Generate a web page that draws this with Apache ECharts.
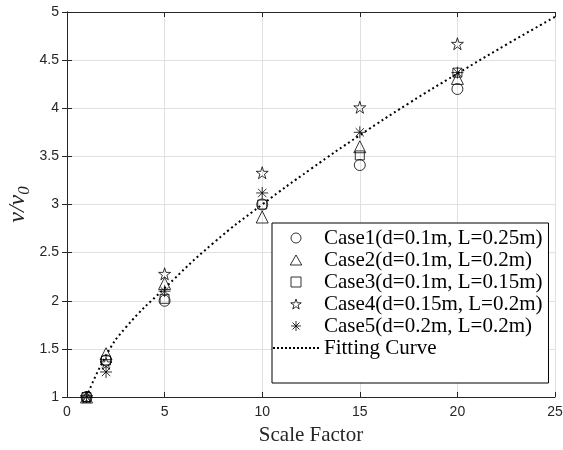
<!DOCTYPE html>
<html>
<head>
<meta charset="utf-8">
<script src="https://cdn.jsdelivr.net/npm/echarts@6/dist/echarts.min.js"></script>
<style>
  html, body { margin: 0; padding: 0; background: #fff; }
  #chart { width: 563px; height: 450px; }
</style>
</head>
<body>
<div id="chart"></div>
<script>
// 数据: 缩放因子与各工况的速度比
const scaleFactors = [1, 2, 5, 10, 15, 20];
const case1 = [1, 1.38, 2.0, 3.0, 3.41, 4.2];
const case2 = [1, 1.45, 2.18, 2.87, 3.6, 4.31];
const case3 = [1, 1.38, 2.02, 3.0, 3.51, 4.37];
const case4 = [1, 1.35, 2.28, 3.33, 4.01, 4.67];
const case5 = [1, 1.26, 2.1, 3.12, 3.75, 4.37];

// 拟合曲线(从图上读取的点)
const fitX = [1, 2, 3, 5, 7.5, 10, 12.5, 15, 17.5, 20, 22.5, 25];
const fitY = [1, 1.43, 1.72, 2.13, 2.6, 3.0, 3.37, 3.72, 4.05, 4.36, 4.66, 4.95];

const caseNames = [
    'Case1(d=0.1m, L=0.25m)',
    'Case2(d=0.1m, L=0.2m)',
    'Case3(d=0.1m, L=0.15m)',
    'Case4(d=0.15m, L=0.2m)',
    'Case5(d=0.2m, L=0.2m)'
];

const starPath = 'path://M0,-1L0.2245,-0.309L0.951,-0.309L0.363,0.118L0.588,0.809L0,0.382L-0.588,0.809L-0.363,0.118L-0.951,-0.309L-0.2245,-0.309Z';
const asteriskPath = 'path://M0,-1L0,1M-1,0L1,0M-0.7,-0.7L0.7,0.7M-0.7,0.7L0.7,-0.7';
const trianglePath = 'path://M0,-1L0.95,0.65L-0.95,0.65Z';
const squarePath = 'path://M-1,-1L1,-1L1,1L-1,1Z';

// 图例中的点线图标
let dotted = 'path://';
for (let i = 0; i < 12; i++) {
    dotted += 'M' + (i * 4) + ',0h2v2h-2z';
}

const symbols = ['circle', trianglePath, squarePath, starPath, asteriskPath];
const sizes = [11, 12, 9, 12, 12];
const caseData = [case1, case2, case3, case4, case5];

const chart = echarts.init(document.getElementById('chart'));

const axisColor = '#262626';
const gridColor = '#e0e0e0';

const series = caseData.map((vals, i) => ({
    name: caseNames[i],
    type: 'scatter',
    symbol: symbols[i],
    symbolSize: sizes[i],
    data: scaleFactors.map((x, j) => [x, vals[j]]),
    itemStyle: {
        color: 'transparent',
        borderColor: '#000',
        borderWidth: 1
    },
    z: 3
}));

series.push({
    name: 'Fitting Curve',
    type: 'line',
    smooth: true,
    showSymbol: false,
    symbol: 'none',
    data: fitX.map((x, j) => [x, fitY[j]]),
    lineStyle: {
        color: '#000',
        width: 2,
        type: [2, 3]
    },
    itemStyle: { color: '#000' },
    z: 2
});

const legendData = caseNames.map(n => ({ name: n }));
legendData.push({ name: 'Fitting Curve', icon: dotted });

const option = {
    animation: false,
    grid: {
        left: 67,
        right: 8,
        top: 12,
        bottom: 53,
        containLabel: false,
        outerBoundsMode: 'none'
    },
    legend: {
        orient: 'vertical',
        left: 272,
        top: 223,
        align: 'left',
        backgroundColor: '#fff',
        borderColor: '#000',
        borderWidth: 1,
        borderRadius: 0,
        padding: [4, 6, 24, 1],
        itemGap: 0,
        itemWidth: 46,
        itemHeight: 10,
        itemStyle: { borderWidth: 1 },
        textStyle: {
            fontFamily: 'Liberation Serif',
            fontSize: 21,
            lineHeight: 22,
            color: '#000'
        },
        data: legendData
    },
    xAxis: [{
        type: 'value',
        min: 0,
        max: 25,
        interval: 5,
        name: 'Scale Factor',
        nameLocation: 'middle',
        nameGap: 28,
        nameTextStyle: {
            fontFamily: 'Liberation Serif',
            fontSize: 21,
            color: axisColor
        },
        axisLine: { lineStyle: { color: axisColor } },
        axisTick: { inside: true, length: 5, lineStyle: { color: axisColor } },
        axisLabel: { fontFamily: 'Liberation Sans', fontSize: 14, color: axisColor, margin: 8 },
        splitLine: { show: true, lineStyle: { color: gridColor } }
    }, {
        type: 'value',
        position: 'top',
        min: 0,
        max: 25,
        interval: 5,
        axisLine: { show: true, lineStyle: { color: axisColor } },
        axisTick: { inside: true, length: 5, lineStyle: { color: axisColor } },
        axisLabel: { show: false },
        splitLine: { show: false }
    }],
    yAxis: [{
        type: 'value',
        min: 1,
        max: 5,
        interval: 0.5,
        name: '{a|ν/ν}{s|0}',
        nameLocation: 'middle',
        nameGap: 34,
        nameMoveOverlap: false,
        nameRotate: 90,
        nameTextStyle: {
            rich: {
                a: {
                    fontFamily: 'Liberation Serif',
                    fontStyle: 'italic',
                    fontSize: 24,
                    color: axisColor
                },
                s: {
                    fontFamily: 'Liberation Serif',
                    fontStyle: 'italic',
                    fontSize: 17,
                    color: axisColor,
                    padding: [14, 0, 0, 0]
                }
            }
        },
        axisLine: { show: true, lineStyle: { color: axisColor } },
        axisTick: { show: true, inside: true, length: 5, lineStyle: { color: axisColor } },
        axisLabel: { fontFamily: 'Liberation Sans', fontSize: 14, color: axisColor, margin: 8 },
        splitLine: { show: true, lineStyle: { color: gridColor } }
    }, {
        type: 'value',
        position: 'right',
        min: 1,
        max: 5,
        interval: 0.5,
        axisLine: { show: true, lineStyle: { color: axisColor } },
        axisTick: { show: true, inside: true, length: 5, lineStyle: { color: axisColor } },
        axisLabel: { show: false },
        splitLine: { show: false }
    }],
    series: series
};

chart.setOption(option);
</script>
</body>
</html>
